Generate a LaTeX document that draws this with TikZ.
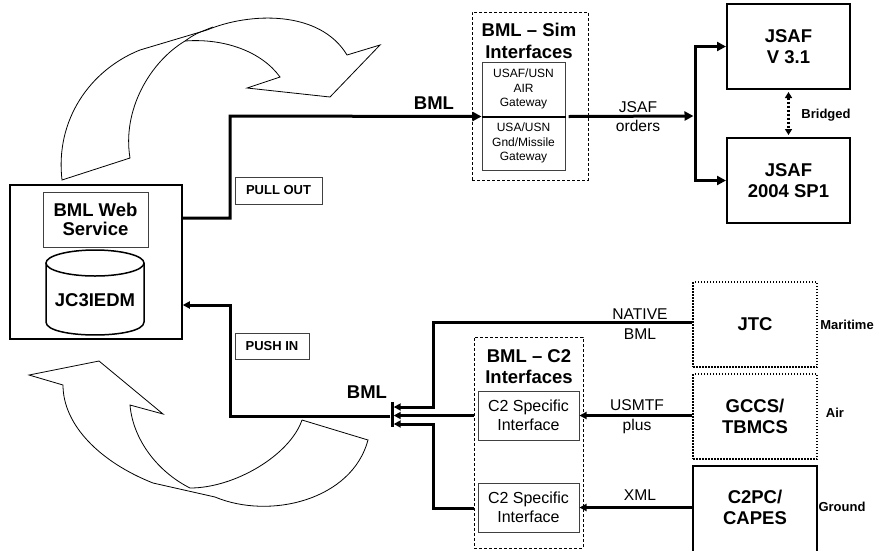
\documentclass[tikz,border=0pt]{standalone}
\usepackage{fontspec}
\setmainfont{Liberation Sans}
\usetikzlibrary{arrows.meta}
\newcommand\myBig{\fontsize{18.5}{21.5}\selectfont\bfseries}
\newcommand\mySmallB{\fontsize{13}{15}\selectfont\bfseries}
\newcommand\myLab{\fontsize{15.6}{19.5}\selectfont}
\newcommand\myGate{\fontsize{12}{14.5}\selectfont}
\newcommand\myCtwo{\fontsize{16}{19}\selectfont}
\begin{document}
\begin{tikzpicture}[x=1pt,y=-1pt,
  thickline/.style={line width=3pt},
  bigarrow/.style={thickline,-{Triangle[length=9pt,width=9pt]}},
  smallarrow/.style={thickline,-{Triangle[length=7pt,width=7pt]}},
  outerbox/.style={draw,line width=1.5pt,inner sep=0pt},
  solidbox/.style={draw,line width=2pt,inner sep=0pt},
  thinbox/.style={draw=black!75,line width=1pt,inner sep=0pt},
  dashbox/.style={draw,line width=1pt,dash pattern=on 3pt off 2pt,inner sep=0pt},
  dotbox/.style={draw,line width=2pt,dash pattern=on 1.5pt off 1.5pt,inner sep=0pt,align=center,font=\myBig},
  flowarrow/.style={draw,line width=0.8pt,line join=miter}]
\useasboundingbox (0,0) rectangle (878,550);

% curved arrows
\draw[flowarrow] (62,180) .. controls (55,120) and (90,70) .. (140,50) -- (207,30)
  .. controls (250,12) and (320,10) .. (347,55) -- (380,45) -- (330,97) -- (247,88) -- (280,77)
  .. controls (262,52) and (225,38) .. (185,41)
  .. controls (150,62) and (122,110) .. (130,158) -- cycle;
\draw[flowarrow] (185,41) .. controls (195,34) .. (213,27);
\draw[flowarrow] (302,420) -- (368,440) .. controls (352,500) and (270,520) .. (215,497) -- (153,483)
  .. controls (100,462) and (63,425) .. (63,385) -- (29,375) -- (99,361) -- (163,414) -- (130,405)
  .. controls (133,440) and (158,472) .. (190,488)
  .. controls (235,488) and (290,455) .. (302,420);

% left system
\node[outerbox,minimum width=172,minimum height=154] (big) at (96,262) {};
\node[thinbox,minimum width=105,minimum height=55,align=center,font=\myBig] (web) at (95.5,219.5) {BML Web\\[-3pt]Service};
\draw[line width=1.5pt] (95,263) ellipse [x radius=49, y radius=13];
\draw[line width=1.5pt] (46,263) -- (46,322) .. controls (46,339.3) and (144,339.3) .. (144,322) -- (144,263);
\node[font=\myBig] (db) at (95,300) {JC3IEDM};

\node[thinbox,minimum width=87,minimum height=27,font=\mySmallB] (pull) at (278.5,190.5) {PULL OUT};
\node[thinbox,minimum width=74,minimum height=26,font=\mySmallB] (push) at (272,346) {PUSH IN};

% sim interfaces
\node[dashbox,minimum width=116,minimum height=168] (simg) at (530,96) {};
\node[font=\myBig,align=center] (simt) at (529,41) {BML -- Sim\\Interfaces};
\node[thinbox,minimum width=83,minimum height=54,align=center,font=\myGate] (gwa) at (523.5,89) {USAF/USN\\AIR\\Gateway};
\node[thinbox,minimum width=83,minimum height=54,align=center,font=\myGate] (gwb) at (523.5,143) {USA/USN\\Gnd/Missile\\Gateway};
\draw[line width=2pt] (gwa.south west) -- (gwa.south east);
\node[font=\myBig] (bmltop) at (434,103) {BML};

\coordinate (tp1) at (230,218);
\coordinate (tp2) at (230,116);
\draw[bigarrow] (big.east |- tp1) -- (tp1) -- (tp2) -- (gwa.south west);

% JSAF
\node[solidbox,minimum width=123,minimum height=85,align=center,font=\myBig] (j31) at (788.5,46.5) {JSAF\\V 3.1};
\node[solidbox,minimum width=123,minimum height=85,align=center,font=\myBig] (j04) at (788.5,180.5) {JSAF\\2004 SP1};
\coordinate (jbr) at (695,116);
\draw[bigarrow,shorten >=1.5pt] ([xshift=3pt]gwa.south east) -- (jbr);
\draw[bigarrow] (jbr) |- (j31.west);
\draw[bigarrow] (jbr) |- (j04.west);
\node[font=\myLab,align=center] (jord) at (638,116.5) {JSAF\\orders};
\draw[line width=2.2pt,dash pattern=on 2pt off 2pt,{Triangle[length=6pt,width=7pt]}-{Triangle[length=6pt,width=7pt]},shorten <=2pt,shorten >=2pt] (j31.south) -- (j04.north);
\node[font=\mySmallB] (brl) at (826,115) {Bridged};

% C2 sources
\node[dotbox,minimum width=124,minimum height=85] (jtc) at (755,324.5) {JTC};
\node[font=\mySmallB] (mar) at (847,325) {Maritime};
\node[dotbox,minimum width=124,minimum height=85] (gccs) at (755,416.5) {GCCS/\\[-1pt]TBMCS};
\node[font=\mySmallB] (airl) at (835,413) {Air};
\node[solidbox,minimum width=124,minimum height=90] (c2pc) at (755,511) {};
\node[font=\myBig,align=center] (c2pct) at (755,507.5) {C2PC/\\[-1pt]CAPES};
\node[font=\mySmallB] (gnd) at (842,507) {Ground};

% C2 interfaces
\node[dashbox,minimum width=109,minimum height=211] (c2g) at (528.5,442.5) {};
\node[font=\myBig,align=center] (c2t) at (529,366.5) {BML -- C2\\Interfaces};
\node[thinbox,minimum width=101,minimum height=49,align=center,font=\myCtwo] (c2a) at (528.5,415.5) {C2 Specific\\Interface};
\node[thinbox,minimum width=101,minimum height=49,align=center,font=\myCtwo] (c2b) at (528.5,507.5) {C2 Specific\\Interface};

\draw[smallarrow] (c2a.east -| gccs.west) -- (c2a.east);
\draw[smallarrow] (c2b.east -| c2pc.west) -- (c2b.east);
\node[font=\myLab,align=center] (usm) at (637,416.5) {USMTF\\plus};
\node[font=\myLab] (xml) at (640,495) {XML};
\node[font=\myLab,align=center] (nat) at (640,324) {NATIVE\\BML};

% merge bar
\node[fill=black,minimum width=3,minimum height=25,inner sep=0pt] (bar) at (392,414.5) {};
\node[font=\myBig] (bmlbot) at (367,392) {BML};
\coordinate (m1) at (433,322);
\coordinate (m2) at (433,407);
\coordinate (m3) at (433,508);
\coordinate (m4) at (433,424);
\draw[smallarrow] (jtc.west |- m1) -- (m1) -- (m2) -- (bar.east |- m2);
\draw[smallarrow] (c2g.west |- c2a.west) -- (bar.east |- c2a.west);
\draw[smallarrow] (c2g.west |- m3) -- (m3) -- (m4) -- (bar.east |- m4);
\coordinate (b1) at (230,416);
\coordinate (b2) at (230,305);
\draw[smallarrow] (bar.west |- b1) -- (b1) -- (b2) -- (big.east |- b2);
\end{tikzpicture}
\end{document}
